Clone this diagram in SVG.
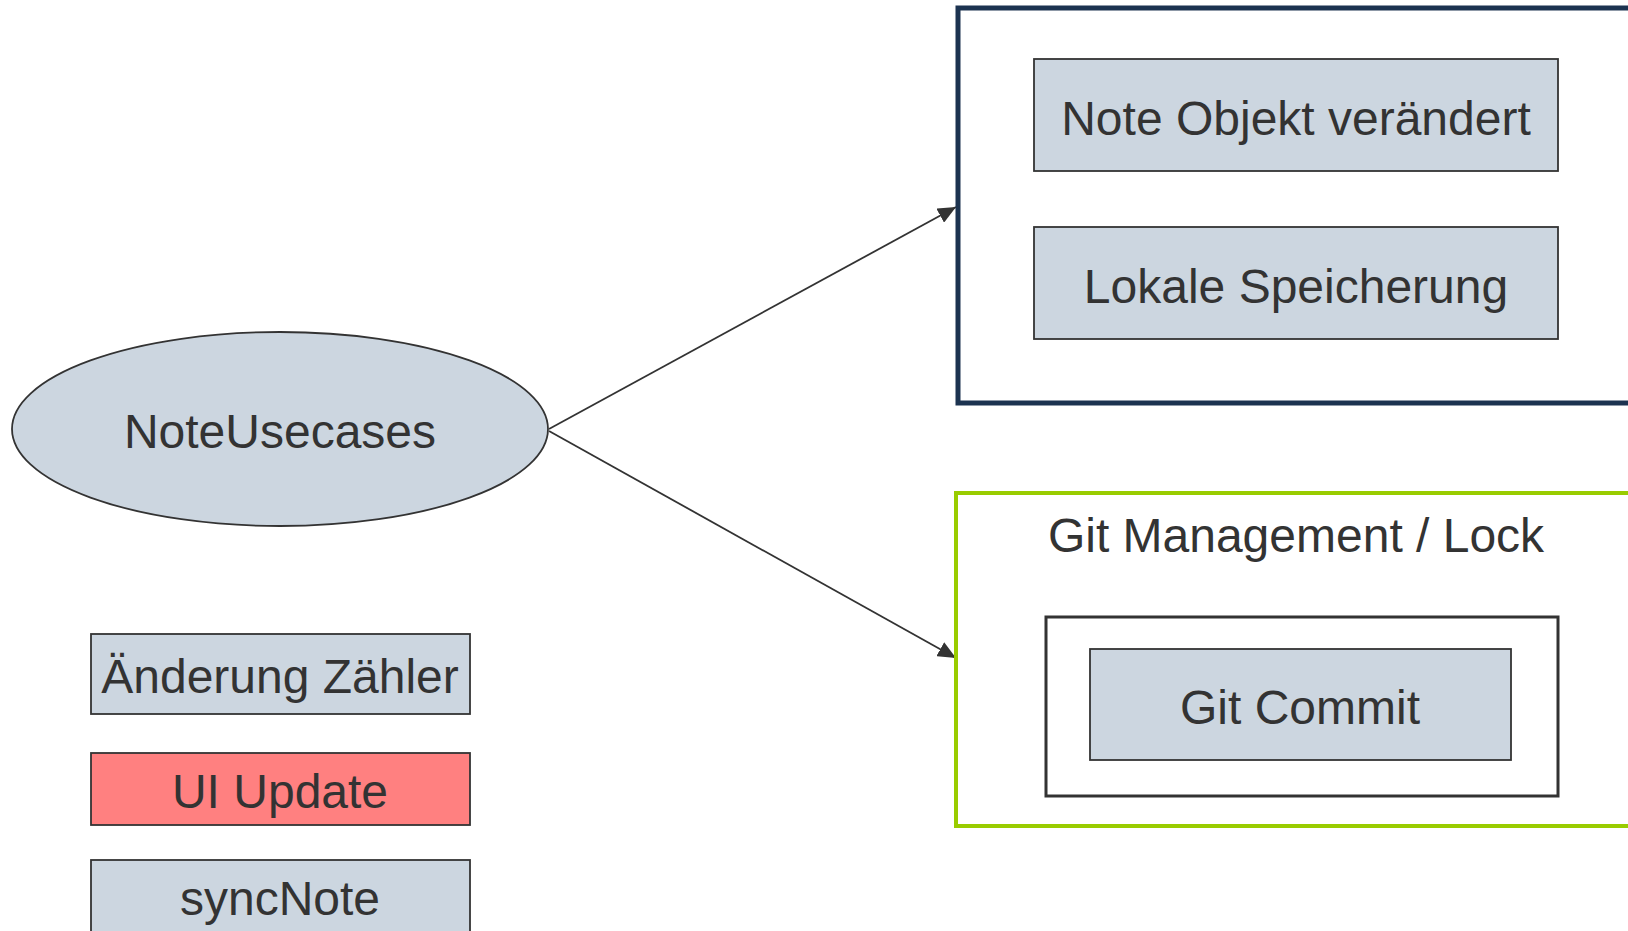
<svg xmlns="http://www.w3.org/2000/svg" width="1628" height="931" viewBox="0 0 1628 931">
<style>
  .box{fill:#ccd6e0;stroke:#333;stroke-width:1.8}
  .red{fill:#ff8080;stroke:#333;stroke-width:1.8}
  .t{font-family:"Liberation Sans",Arial,sans-serif;font-size:48px;fill:#333;text-anchor:middle}
  .conn{stroke:#333;stroke-width:1.8;fill:none}
</style>
<defs>
  <marker id="arr" markerUnits="userSpaceOnUse" markerWidth="20" markerHeight="16" refX="18" refY="8" orient="auto">
    <path d="M0,0 L18,8 L0,16 Z" fill="#333"/>
  </marker>
</defs>
<rect width="1628" height="931" fill="#fff"/>
<g id="connectors">
  <line class="conn" x1="549" y1="429" x2="956" y2="207" marker-end="url(#arr)"/>
  <line class="conn" x1="549" y1="431" x2="956" y2="658" marker-end="url(#arr)"/>
</g>
<g id="group-local">
  <rect x="958" y="8" width="690" height="395" fill="#fff" stroke="#1c3350" stroke-width="5"/>
</g>
<g id="note-objekt">
  <rect class="box" x="1034" y="59" width="524" height="112"/>
  <text class="t" x="1296" y="135">Note Objekt verändert</text>
</g>
<g id="lokale-speicherung">
  <rect class="box" x="1034" y="227" width="524" height="112"/>
  <text class="t" x="1296" y="303">Lokale Speicherung</text>
</g>
<g id="group-git">
  <rect x="956" y="493" width="690" height="333" fill="#fff" stroke="#99cc00" stroke-width="4"/>
  <text class="t" x="1296" y="552">Git Management / Lock</text>
</g>
<g id="git-inner">
  <rect x="1046" y="617" width="512" height="179" fill="#fff" stroke="#333" stroke-width="3"/>
</g>
<g id="git-commit">
  <rect class="box" x="1090" y="649" width="421" height="111"/>
  <text class="t" x="1300" y="724">Git Commit</text>
</g>
<g id="note-usecases">
  <ellipse class="box" cx="280" cy="429" rx="268" ry="97"/>
  <text class="t" x="280" y="448">NoteUsecases</text>
</g>
<g id="aenderung-zaehler">
  <rect class="box" x="91" y="634" width="379" height="80"/>
  <text class="t" x="280" y="693">Änderung Zähler</text>
</g>
<g id="ui-update">
  <rect class="red" x="91" y="753" width="379" height="72"/>
  <text class="t" x="280" y="808">UI Update</text>
</g>
<g id="sync-note">
  <rect class="box" x="91" y="860" width="379" height="80"/>
  <text class="t" x="280" y="915">syncNote</text>
</g>
</svg>
